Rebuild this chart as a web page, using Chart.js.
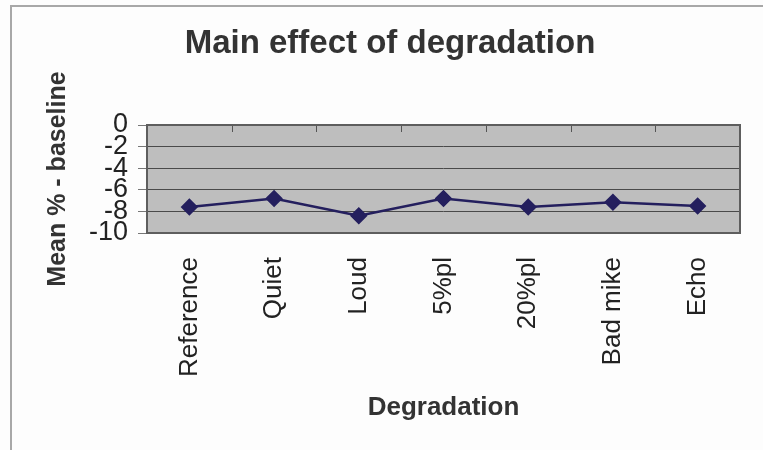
<!DOCTYPE html>
<html>
<head>
<meta charset="utf-8">
<script src="https://cdn.jsdelivr.net/npm/chart.js@4.4.1/dist/chart.umd.min.js"></script>
<style>
  body { margin: 0; background: #fdfdfd; }
  canvas { display: block; }
</style>
</head>
<body>
<canvas id="degradationChart" width="763" height="450"></canvas>
<script>
// degradation conditions and the mean % change from baseline
const categories = ['Reference', 'Quiet', 'Loud', '5%pl', '20%pl', 'Bad mike', 'Echo'];
const meanChange = [-7.6, -6.8, -8.4, -6.8, -7.6, -7.15, -7.5];

// y axis range
const yMin = -10;
const yMax = 0;
const yStep = 2;

const FONT = "'Liberation Sans', Arial, sans-serif";

// paints page background, the scanned border lines and the grey plot area
const backgroundPlugin = {
    id: 'background',
    beforeDraw(chart) {
        const c = chart.ctx;
        const a = chart.chartArea;
        c.save();
        c.fillStyle = '#fdfdfd';
        c.fillRect(0, 0, chart.width, chart.height);
        c.strokeStyle = '#a8a8a8';
        c.lineWidth = 2;
        c.beginPath();
        c.moveTo(11, chart.height);
        c.lineTo(11, 6);
        c.lineTo(chart.width, 6);
        c.stroke();
        c.fillStyle = '#bebebe';
        c.fillRect(a.left, a.top, a.right - a.left, a.bottom - a.top);
        c.restore();
    },
    beforeDatasetsDraw(chart) {
        const c = chart.ctx;
        const a = chart.chartArea;
        const x = chart.scales.x;
        c.save();
        // category tick marks hang down from the zero line
        c.strokeStyle = '#555';
        c.lineWidth = 1;
        c.beginPath();
        for (let i = 1; i < categories.length; i++) {
            const px = Math.round(x.getPixelForValue(i - 0.5)) + 0.5;
            c.moveTo(px, a.top);
            c.lineTo(px, a.top + 7);
        }
        c.stroke();
        c.strokeStyle = '#5e5e5e';
        c.lineWidth = 2;
        c.strokeRect(a.left, a.top, a.right - a.left, a.bottom - a.top);
        c.restore();
    }
};

new Chart(document.getElementById('degradationChart'), {
    type: 'line',
    data: {
        labels: categories,
        datasets: [{
            data: meanChange,
            borderColor: '#241f5e',
            backgroundColor: '#241f5e',
            borderWidth: 2.5,
            pointStyle: 'rectRot',
            pointRadius: 7,
            pointHoverRadius: 7,
            tension: 0
        }]
    },
    options: {
        responsive: false,
        animation: false,
        devicePixelRatio: 1,
        layout: { padding: { left: 40, right: 23, top: 0, bottom: 0 } },
        plugins: {
            legend: { display: false },
            tooltip: { enabled: false },
            title: {
                display: true,
                text: 'Main effect of degradation',
                color: '#333',
                font: { family: FONT, size: 33, weight: 'bold', lineHeight: 1.2 },
                padding: { top: 24, bottom: 61.4 }
            }
        },
        scales: {
            x: {
                offset: true,
                grid: { display: false },
                border: { display: false },
                afterFit(scale) { scale.height = 217; },
                ticks: {
                    color: '#222',
                    font: { family: FONT, size: 26 },
                    maxRotation: 90,
                    minRotation: 90,
                    padding: 16,
                    autoSkip: false
                },
                title: {
                    display: true,
                    text: 'Degradation',
                    color: '#333',
                    font: { family: FONT, size: 26, weight: 'bold', lineHeight: 1.2 },
                    padding: { top: 0, bottom: 27 }
                }
            },
            y: {
                min: yMin,
                max: yMax,
                afterFit(scale) { scale.width = 107; },
                grid: {
                    color: '#4a4a4a',
                    lineWidth: 1,
                    tickLength: 9,
                    tickColor: '#777'
                },
                border: { display: false },
                ticks: {
                    stepSize: yStep,
                    autoSkip: false,
                    color: '#222',
                    padding: 10,
                    font: { family: FONT, size: 27, lineHeight: 1 }
                },
                title: {
                    display: true,
                    text: 'Mean % - baseline',
                    color: '#333',
                    font: { family: FONT, size: 25, weight: 'bold', lineHeight: 1.2 },
                    padding: { top: 3, bottom: 0 }
                }
            }
        }
    },
    plugins: [backgroundPlugin]
});
</script>
</body>
</html>
